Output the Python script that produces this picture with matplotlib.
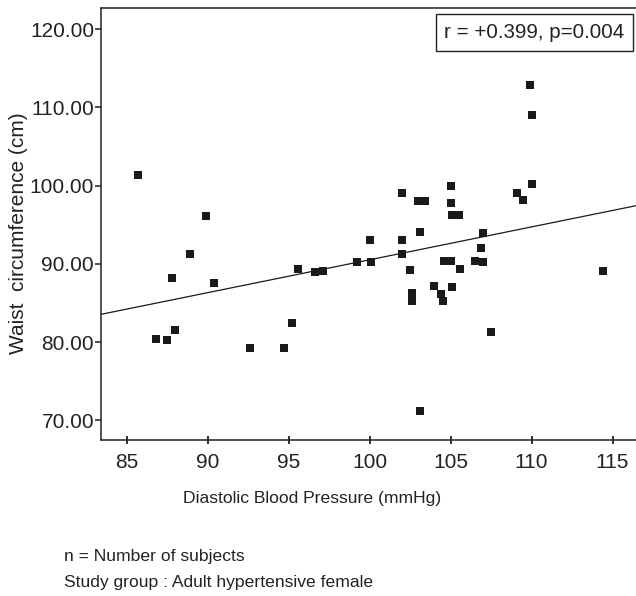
import numpy as np
import matplotlib
matplotlib.use("Agg")
import matplotlib.pyplot as plt
from matplotlib.ticker import FormatStrFormatter

plt.rcParams['font.family'] = ['Liberation Sans', 'DejaVu Sans']

# diastolic blood pressure (mmHg) / waist circumference (cm)
dbp = [85.7, 86.8, 87.5, 87.8, 88.0, 88.9, 89.9, 90.4, 92.6, 94.7,
       95.2, 95.6, 96.6, 97.1, 99.2, 100.0, 100.1, 102.0, 102.0, 102.0,
       102.5, 102.6, 102.6, 103.0, 103.4, 103.1, 103.1, 104.0, 104.4, 104.5,
       104.6, 105.0, 105.0, 105.0, 105.1, 105.5, 105.1, 105.6, 106.5, 107.0,
       106.9, 107.0, 107.5, 109.1, 109.5, 109.9, 110.0, 110.0, 114.4]
waist = [101.3, 80.4, 80.3, 88.2, 81.5, 91.3, 96.1, 87.5, 79.3, 79.3,
         82.5, 89.4, 89.0, 89.1, 90.3, 93.1, 90.2, 99.1, 93.1, 91.3,
         89.2, 86.3, 85.2, 98.0, 98.0, 94.1, 71.2, 87.2, 86.2, 85.2,
         90.4, 90.4, 100.0, 97.8, 96.2, 96.2, 87.1, 89.3, 90.4, 94.0,
         92.0, 90.3, 81.3, 99.1, 98.2, 112.9, 109.0, 100.2, 89.1]

# fitted line as drawn in the figure
fit_slope = 0.42
fit_intercept = 48.53

x_ticks = [85, 90, 95, 100, 105, 110, 115]
y_ticks = [70, 80, 90, 100, 110, 120]
x_lim = (83.4, 116.45)
y_lim = (67.5, 122.7)

stats_text = "r = +0.399, p=0.004"
x_title = "Diastolic Blood Pressure (mmHg)"
y_title = "Waist  circumference (cm)"
notes = ["n = Number of subjects", "Study group : Adult hypertensive female"]

W, H = 636, 596
fig = plt.figure(figsize=(W / 100, H / 100), dpi=100)
ax = fig.add_axes([101 / W, 1 - 440 / H, (636 - 101) / W, (440 - 8) / H])

ax.scatter(dbp, waist, marker='s', s=32, color='#1a1a1a', linewidths=0, zorder=3)

xx = np.array(x_lim)
ax.plot(xx, fit_intercept + fit_slope * xx, color='#1a1a1a', lw=0.9, zorder=2)

ax.set_xlim(*x_lim)
ax.set_ylim(*y_lim)
ax.set_xticks(x_ticks)
ax.set_yticks(y_ticks)
ax.yaxis.set_major_formatter(FormatStrFormatter('%.2f'))

for side in ['left', 'bottom', 'top']:
    ax.spines[side].set_color('#222222')
    ax.spines[side].set_linewidth(1.1)
ax.spines['right'].set_visible(False)

ax.tick_params(axis='y', direction='out', length=4.5, width=1.1, pad=0.5,
               labelsize=15, colors='#222222')
ax.tick_params(axis='x', direction='inout', length=6, width=1.3, pad=6,
               labelsize=15, colors='#222222')

ax.text(0.81, 0.943, stats_text, transform=ax.transAxes, ha='center', va='center',
        fontsize=14.8, color='#222222',
        bbox=dict(boxstyle='square,pad=0.42', fc='white', ec='#222222', lw=1.0))

fig.text(312.5 / W, 1 - 498 / H, x_title, ha='center', va='center',
         fontsize=12.6, color='#222222')
fig.text(18.5 / W, 1 - 233.5 / H, y_title, ha='center', va='center',
         rotation=90, fontsize=15, color='#222222')

fig.text(64 / W, 1 - 557 / H, notes[0], ha='left', va='center',
         fontsize=12.6, color='#222222')
fig.text(64 / W, 1 - 583 / H, notes[1], ha='left', va='center',
         fontsize=12.6, color='#222222')

fig.savefig('out.png', dpi=100)
